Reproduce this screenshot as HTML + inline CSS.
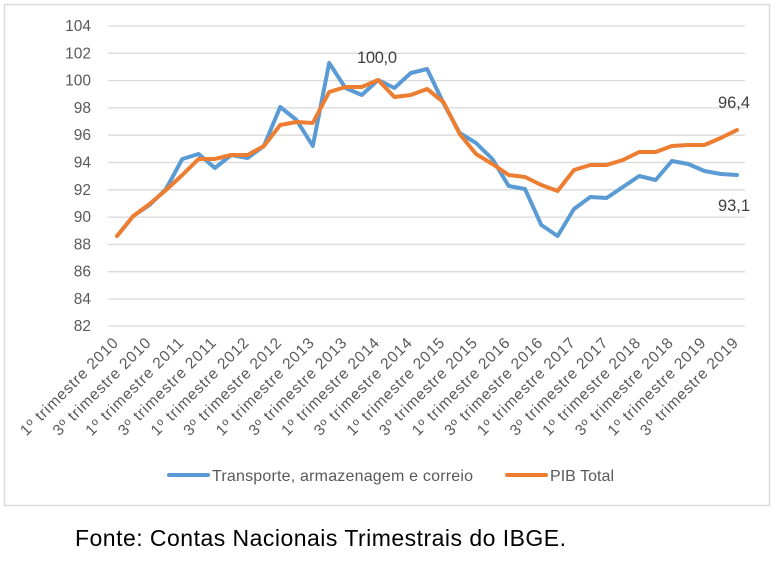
<!DOCTYPE html>
<html><head><meta charset="utf-8"><style>
html,body{margin:0;padding:0;background:#fff;}
svg{display:block;font-family:"Liberation Sans",sans-serif;}
</style></head><body>
<svg width="778" height="576" viewBox="0 0 778 576">
<rect x="4.5" y="4.5" width="765" height="501" fill="#fff" stroke="#d9d9d9" stroke-width="1.5"/>
<g stroke="#d9d9d9" stroke-width="1.3">
<line x1="108" x2="745" y1="26" y2="26"/><line x1="108" x2="745" y1="53.3" y2="53.3"/>
<line x1="108" x2="745" y1="80.6" y2="80.6"/><line x1="108" x2="745" y1="107.9" y2="107.9"/>
<line x1="108" x2="745" y1="135.2" y2="135.2"/><line x1="108" x2="745" y1="162.5" y2="162.5"/>
<line x1="108" x2="745" y1="189.8" y2="189.8"/><line x1="108" x2="745" y1="217.1" y2="217.1"/>
<line x1="108" x2="745" y1="244.4" y2="244.4"/><line x1="108" x2="745" y1="271.7" y2="271.7"/>
<line x1="108" x2="745" y1="299" y2="299"/><line x1="108" x2="745" y1="326" y2="326"/>
</g>
<g fill="#595959" font-size="15.5" text-anchor="end">
<text x="91" y="31">104</text><text x="91" y="58.3">102</text><text x="91" y="85.6">100</text>
<text x="91" y="112.9">98</text><text x="91" y="140.2">96</text><text x="91" y="167.5">94</text>
<text x="91" y="194.8">92</text><text x="91" y="222.1">90</text><text x="91" y="249.4">88</text>
<text x="91" y="276.7">86</text><text x="91" y="304">84</text><text x="91" y="331">82</text>
</g>
<polyline fill="none" stroke="#5b9bd5" stroke-width="4" stroke-linejoin="round" stroke-linecap="round" points="117,236 133.3,216 149.6,205 166,189 182.3,159 198.6,154 214.9,168 231.2,155 247.6,158 263.9,146 280.2,107 296.5,120 312.8,146 329.2,63 345.5,88 361.8,95 378.1,80 394.4,88 410.8,73 427.1,69 443.4,103 459.7,133 476,143 492.4,159 508.7,186 525,189 541.3,225 557.6,236 574,209 590.3,197 606.6,198 622.9,187 639.2,176 655.6,180 671.9,161 688.2,164 704.5,171 720.8,174 737,175"/>
<polyline fill="none" stroke="#ed7d31" stroke-width="4" stroke-linejoin="round" stroke-linecap="round" points="117,236 133.3,216 149.6,204 166,190 182.3,175 198.6,159 214.9,159 231.2,155 247.6,155 263.9,146 280.2,125 296.5,122 312.8,123 329.2,92 345.5,87 361.8,87 378.1,80 394.4,97 410.8,95 427.1,89 443.4,102 459.7,134 476,154 492.4,164 508.7,175 525,177 541.3,185 557.6,191 574,170 590.3,165 606.6,165 622.9,160 639.2,152 655.6,152 671.9,146 688.2,145 704.5,145 720.8,138 737,130"/>
<g fill="#404040" font-size="16.5">
<text x="357" y="63" textLength="40">100,0</text>
<text x="718" y="108" textLength="32">96,4</text>
<text x="718" y="211" textLength="32">93,1</text>
</g>
<g fill="#595959" font-size="15.5" text-anchor="end">
<text transform="translate(119,344) rotate(-45)" textLength="131">1º trimestre 2010</text>
<text transform="translate(151.6,344) rotate(-45)" textLength="131">3º trimestre 2010</text>
<text transform="translate(184.3,344) rotate(-45)" textLength="131">1º trimestre 2011</text>
<text transform="translate(216.9,344) rotate(-45)" textLength="131">3º trimestre 2011</text>
<text transform="translate(249.6,344) rotate(-45)" textLength="131">1º trimestre 2012</text>
<text transform="translate(282.2,344) rotate(-45)" textLength="131">3º trimestre 2012</text>
<text transform="translate(314.8,344) rotate(-45)" textLength="131">1º trimestre 2013</text>
<text transform="translate(347.5,344) rotate(-45)" textLength="131">3º trimestre 2013</text>
<text transform="translate(380.1,344) rotate(-45)" textLength="131">1º trimestre 2014</text>
<text transform="translate(412.8,344) rotate(-45)" textLength="131">3º trimestre 2014</text>
<text transform="translate(445.4,344) rotate(-45)" textLength="131">1º trimestre 2015</text>
<text transform="translate(478,344) rotate(-45)" textLength="131">3º trimestre 2015</text>
<text transform="translate(510.7,344) rotate(-45)" textLength="131">1º trimestre 2016</text>
<text transform="translate(543.3,344) rotate(-45)" textLength="131">3º trimestre 2016</text>
<text transform="translate(576,344) rotate(-45)" textLength="131">1º trimestre 2017</text>
<text transform="translate(608.6,344) rotate(-45)" textLength="131">3º trimestre 2017</text>
<text transform="translate(641.2,344) rotate(-45)" textLength="131">1º trimestre 2018</text>
<text transform="translate(673.9,344) rotate(-45)" textLength="131">3º trimestre 2018</text>
<text transform="translate(706.5,344) rotate(-45)" textLength="131">1º trimestre 2019</text>
<text transform="translate(739,344) rotate(-45)" textLength="131">3º trimestre 2019</text>
</g>
<line x1="169" y1="475" x2="208" y2="475" stroke="#5b9bd5" stroke-width="4" stroke-linecap="round"/>
<text x="212" y="481" fill="#595959" font-size="16" textLength="261">Transporte, armazenagem e correio</text>
<line x1="507" y1="475" x2="546" y2="475" stroke="#ed7d31" stroke-width="4" stroke-linecap="round"/>
<text x="550" y="481" fill="#595959" font-size="16" textLength="64">PIB Total</text>
<text x="75" y="546" fill="#000" font-size="23" textLength="491">Fonte: Contas Nacionais Trimestrais do IBGE.</text>
</svg>
</body></html>
